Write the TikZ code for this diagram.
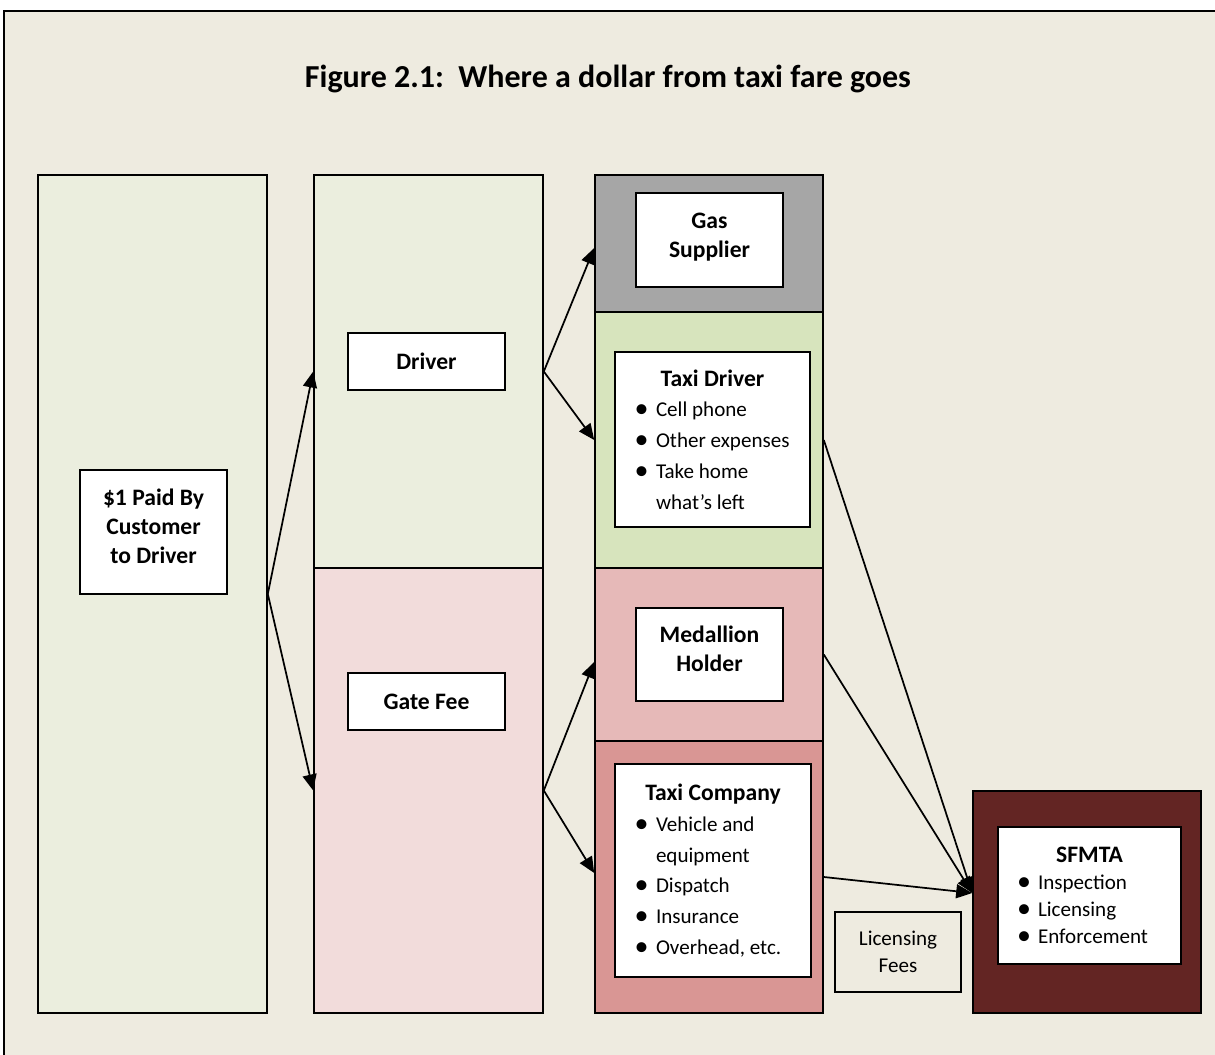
\documentclass[tikz,border=0pt]{standalone}
\usepackage{fontspec}
\setmainfont{Carlito}
\usetikzlibrary{arrows.meta,fit,calc}
\definecolor{bgc}{RGB}{238,235,224}
\definecolor{lgreen}{RGB}{235,238,222}
\definecolor{lpink}{RGB}{242,220,219}
\definecolor{gasgrey}{RGB}{166,166,166}
\definecolor{tdgreen}{RGB}{215,228,189}
\definecolor{medpink}{RGB}{230,185,184}
\definecolor{tcred}{RGB}{217,150,148}
\definecolor{sfred}{RGB}{99,37,35}
\newcommand\hdf{\fontsize{17.7}{21.75}\selectfont\bfseries}
\newcommand\rgf{\fontsize{15.8}{23.1}\selectfont}
\newcommand\bglyph{\raisebox{-0.6pt}{\fontsize{21}{21}\selectfont•}}
\newcommand\bitem[1]{\hspace*{19.9pt}\makebox[0pt][c]{\bglyph}\hspace*{10.85pt}#1}
\newcommand\bcont[1]{\hspace*{30.75pt}#1}
\newcommand\sitem[1]{\hspace*{19.5pt}\makebox[0pt][c]{\bglyph}\hspace*{10.5pt}#1}
\tikzset{
  colbox/.style={draw=black, line width=1.2pt, inner sep=0pt},
  wbox/.style={draw=black, fill=white, line width=1.2pt, inner sep=0pt, align=center, font=\hdf},
  btext/.style={inner sep=0pt, align=center, font=\hdf},
  lbox/.style={draw=black, fill=white, line width=1.2pt, inner xsep=0pt, inner ysep=0pt, align=flush left, font=\rgf},
  arr/.style={line width=1.3pt, -{Triangle[length=12pt,width=10.5pt]}},
}
\begin{document}
\begin{tikzpicture}[x=0.75pt,y=-0.75pt]
\useasboundingbox (0,0) rectangle (1215,1055);
\clip (0,0) rectangle (1215,1055);
\fill[white] (0,0) rectangle (1215,1055);
\draw[fill=bgc, line width=1.5pt] (4,11) rectangle (1240,1080);
\node[anchor=base, font=\fontsize{24}{28}\selectfont\bfseries] (title) at (608,88) {Figure 2.1:\ \ Where a dollar from taxi fare goes};
% columns
\node[colbox, fill=lgreen, fit={(38,175)(267,1013)}] (c1) {};
\node[colbox, fill=lgreen, fit={(314,175)(543,568)}] (c2a) {};
\node[colbox, fill=lpink, fit={(314,568)(543,1013)}] (c2b) {};
\node[colbox, fill=gasgrey, fit={(595,175)(823,312)}] (gasc) {};
\node[colbox, fill=tdgreen, fit={(595,312)(823,568)}] (tdc) {};
\node[colbox, fill=medpink, fit={(595,568)(823,741)}] (medc) {};
\node[colbox, fill=tcred, fit={(595,741)(823,1013)}] (tcc) {};
\node[colbox, fill=sfred, fit={(973,791)(1201,1013)}] (sfo) {};
% white boxes
\node[wbox, minimum width=110.25pt, minimum height=93pt] (pay) at (153.5,532) {};
\node[btext] (paytext) at (153.5,526) {\$1 Paid By\\Customer\\to Driver};
\node[wbox, minimum width=117.75pt, minimum height=42.75pt] (driver) at (426.5,361.5) {Driver};
\node[wbox, minimum width=117.75pt, minimum height=42.75pt] (gate) at (426.5,701.5) {Gate Fee};
\node[wbox, minimum width=110.25pt, minimum height=70.5pt] (gas) at (709.5,240) {};
\node[btext] (gastext) at (709.5,237) {Gas\\Supplier};
\node[wbox, minimum width=110.25pt, minimum height=69.75pt] (med) at (709.5,654.5) {};
\node[btext] (medtext) at (709.5,648.5) {Medallion\\Holder};
\node[lbox, text width=146.25pt, minimum height=131.25pt] (td) at (712.5,439.5) {\makebox[\linewidth]{\hdf Taxi Driver}\\\bitem{Cell phone}\\\bitem{Other expenses}\\\bitem{Take home}\\\bcont{what’s left}};
\node[lbox, text width=147pt, minimum height=159.75pt] (tc) at (713,870.5) {\makebox[\linewidth]{\hdf Taxi Company}\\\bitem{Vehicle and}\\\bcont{equipment}\\\bitem{Dispatch}\\\bitem{Insurance}\\\bitem{Overhead, etc.}};
\node[lbox, text width=137.25pt, minimum height=102.75pt, font=\fontsize{15.8}{20.25}\selectfont] (sf) at (1089.5,895.5) {\makebox[\linewidth]{\hdf SFMTA}\\\sitem{Inspection}\\\sitem{Licensing}\\\sitem{Enforcement}};
\node[draw=black, fill=bgc, line width=1.2pt, inner sep=0pt, align=center, font=\fontsize{15.8}{20.25}\selectfont, minimum width=94.5pt, minimum height=60pt] (lic) at (898,952) {Licensing\\Fees};
% arrows
\draw[arr] (c1.east) -- (c2a.west);
\draw[arr] (c1.east) -- (c2b.west);
\draw[arr] (c2a.east) -- ([yshift=-3.4pt]gasc.west);
\draw[arr] (c2a.east) -- (tdc.west);
\draw[arr] (c2b.east) -- ([yshift=-5.6pt]medc.west);
\draw[arr] (c2b.east) -- ([yshift=3pt]tcc.west);
\coordinate (sfin) at ([yshift=6.75pt]sfo.west);
\draw[arr] (tdc.east) -- (sfin);
\draw[arr] (medc.east) -- (sfin);
\draw[arr] (tcc.east) -- (sfin);
\end{tikzpicture}
\end{document}
